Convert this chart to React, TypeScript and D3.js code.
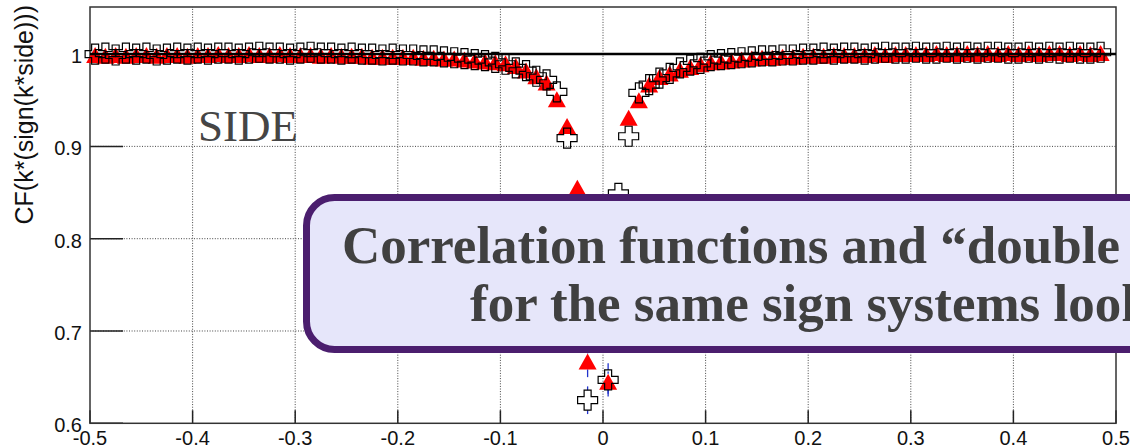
import React from "react";
import * as d3 from "d3";

// bin centres of k* (GeV/c), one per histogram bin
const kStar = [
  -0.495, -0.485, -0.475, -0.465, -0.455, -0.445, -0.435, -0.425, -0.415, -0.405,
  -0.395, -0.385, -0.375, -0.365, -0.355, -0.345, -0.335, -0.325, -0.315, -0.305,
  -0.295, -0.285, -0.275, -0.265, -0.255, -0.245, -0.235, -0.225, -0.215, -0.205,
  -0.195, -0.185, -0.175, -0.165, -0.155, -0.145, -0.135, -0.125, -0.115, -0.105,
  -0.095, -0.085, -0.075, -0.065, -0.055, -0.045, -0.035, -0.025, -0.015, -0.005,
  0.005, 0.015, 0.025, 0.035, 0.045, 0.055, 0.065, 0.075, 0.085, 0.095,
  0.105, 0.115, 0.125, 0.135, 0.145, 0.155, 0.165, 0.175, 0.185, 0.195,
  0.205, 0.215, 0.225, 0.235, 0.245, 0.255, 0.265, 0.275, 0.285, 0.295,
  0.305, 0.315, 0.325, 0.335, 0.345, 0.355, 0.365, 0.375, 0.385, 0.395,
  0.405, 0.415, 0.425, 0.435, 0.445, 0.455, 0.465, 0.475, 0.485, 0.495,
];

// red full triangles
const triangleCF = [
  0.998, 0.997, 0.998, 0.997, 0.998, 0.998, 0.997, 0.998, 0.998, 0.997,
  0.998, 0.998, 0.999, 0.998, 0.998, 0.999, 0.998, 0.998, 0.999, 0.998,
  0.998, 0.998, 0.997, 0.998, 0.997, 0.997, 0.997, 0.996, 0.996, 0.996,
  0.996, 0.996, 0.995, 0.995, 0.994, 0.994, 0.993, 0.992, 0.991, 0.99,
  0.989, 0.986, 0.981, 0.975, 0.968, 0.95, 0.921, 0.854, 0.666, null,
  0.644, 0.79, 0.93, 0.949, 0.966, 0.974, 0.978, 0.982, 0.985, 0.988,
  0.99, 0.991, 0.992, 0.993, 0.994, 0.995, 0.995, 0.996, 0.996, 0.997,
  0.997, 0.997, 0.998, 0.998, 0.998, 0.998, 0.999, 0.998, 0.999, 0.999,
  0.999, 0.999, 1.0, 0.999, 0.999, 1.0, 0.999, 1.0, 0.999, 1.0,
  0.999, 1.0, 0.999, 1.0, 1.0, 0.999, 1.0, 0.999, 1.0, null,
];

// black open crosses
const crossCF = [
  1.0, 1.001, 0.999, 1.001, 1.0, 1.001, 0.999, 1.0, 1.001, 1.0,
  1.001, 1.0, 1.001, 1.001, 1.0, 1.001, 1.002, 1.001, 1.001, 1.0,
  1.001, 1.002, 1.001, 1.001, 1.0, 1.001, 1.0, 1.0, 0.999, 1.0,
  0.999, 0.999, 0.998, 0.998, 0.997, 0.996, 0.995, 0.994, 0.993, 0.991,
  0.989, 0.985, 0.982, 0.976, 0.972, 0.959, 0.909, 0.76, 0.625, null,
  0.647, 0.849, 0.911, 0.958, 0.967, 0.974, 0.979, 0.985, 0.988, 0.99,
  0.993, 0.994, 0.995, 0.996, 0.997, 0.998, 0.998, 0.999, 0.999, 1.0,
  1.0, 1.001, 1.0, 1.001, 1.001, 1.0, 1.001, 1.002, 1.001, 1.001,
  1.002, 1.001, 1.001, 1.002, 1.001, 1.002, 1.001, 1.002, 1.002, 1.001,
  1.001, 1.002, 1.001, 1.002, 1.001, 1.002, 1.001, 1.001, 1.002, null,
];

// statistical errors, only where they stick out of the markers
const errK = [-0.015, 0.005];
const triangleErr = [0.016, 0.012];
const crossErr = [0.015, 0.018];

const xTicks = [-0.5, -0.4, -0.3, -0.2, -0.1, 0, 0.1, 0.2, 0.3, 0.4, 0.5];
const xTickLabels = ["-0.5", "-0.4", "-0.3", "-0.2", "-0.1", "0", "0.1", "0.2", "0.3", "0.4", "0.5"];
const yTicks = [0.6, 0.7, 0.8, 0.9, 1.0];
const yTickLabels = ["0.6", "0.7", "0.8", "0.9", "1"];

const yTitle = "CF(k*(sign(k*side)))";
const panelLabel = "SIDE";
const bannerLines = ["Correlation functions and \u201cdouble ratios\u201d", "for the same sign systems look similar"];

const sansFont = "'Liberation Sans', Arial, Helvetica, sans-serif";
const serifFont = "'Liberation Serif', 'Times New Roman', serif";

function trianglePath(cx: number, cy: number) {
  return `M${cx},${cy - 9}L${cx + 9},${cy + 7}L${cx - 9},${cy + 7}Z`;
}

function crossPath(cx: number, cy: number) {
  const h = 10;
  const a = 3.5;
  return (
    `M${cx - a},${cy - h}H${cx + a}V${cy - a}H${cx + h}V${cy + a}H${cx + a}` +
    `V${cy + h}H${cx - a}V${cy + a}H${cx - h}V${cy - a}H${cx - a}Z`
  );
}

export default function App() {
  const width = 1130;
  const height = 445;
  const x = d3.scaleLinear().domain([-0.5, 0.5]).range([90, 1116]);
  const y = d3.scaleLinear().domain([0.6, 1.051]).range([423.3, 7]);
  const [x0, x1] = x.range();
  const [yb, yt] = y.range();

  const triPts = kStar
    .map((k, i) => ({ k, v: triangleCF[i] }))
    .filter(d => d.v !== null) as { k: number; v: number }[];
  const crossPts = kStar
    .map((k, i) => ({ k, v: crossCF[i] }))
    .filter(d => d.v !== null) as { k: number; v: number }[];

  const errSegs: { xx: number; y1: number; y2: number }[] = [];
  errK.forEach((k, i) => {
    const ti = kStar.indexOf(k);
    const tv = triangleCF[ti] as number;
    const cv = crossCF[ti] as number;
    const xx = x(k);
    errSegs.push({ xx, y1: y(tv + triangleErr[i]), y2: y(tv) - 9 });
    errSegs.push({ xx, y1: y(tv) + 7, y2: y(tv - triangleErr[i]) });
    errSegs.push({ xx, y1: y(cv + crossErr[i]), y2: y(cv) - 10 });
    errSegs.push({ xx, y1: y(cv) + 10, y2: y(cv - crossErr[i]) });
  });

  return (
    <svg
      width={width}
      height={height}
      style={{ position: "absolute", left: 0, top: 0, background: "#fff" }}
    >
      <rect x={0} y={0} width={width} height={height} fill="#fff" />

      {/* grid */}
      <g stroke="#444" strokeWidth={1} strokeDasharray="1,1.6">
        {xTicks.slice(1, -1).map(t => (
          <line key={"gx" + t} x1={x(t)} x2={x(t)} y1={yb} y2={yt} />
        ))}
        {yTicks.slice(1).map(t => (
          <line key={"gy" + t} x1={x0} x2={x1} y1={y(t)} y2={y(t)} />
        ))}
      </g>

      {/* ticks */}
      <g stroke="#222" strokeWidth={1.5}>
        {xTicks.map(t => (
          <line key={"tx" + t} x1={x(t)} x2={x(t)} y1={yb} y2={yb - 13} />
        ))}
        {yTicks.map(t => (
          <line key={"ty" + t} x1={x0} x2={x0 + 33} y1={y(t)} y2={y(t)} />
        ))}
      </g>

      {/* frame */}
      <rect x={x0} y={yt} width={x1 - x0} height={yb - yt} fill="none" stroke="#333" strokeWidth={1.5} />

      {/* error bars */}
      <g stroke="#2233cc" strokeWidth={1.3}>
        {errSegs.map((s, i) => (
          <line key={"e" + i} x1={s.xx} x2={s.xx} y1={s.y1} y2={s.y2} />
        ))}
      </g>

      {/* markers */}
      <g fill="#ff0000" stroke="none">
        {triPts.map(d => (
          <path key={"t" + d.k} d={trianglePath(x(d.k), y(d.v))} />
        ))}
      </g>
      <g fill="none" stroke="#000" strokeWidth={1.2}>
        {crossPts.map(d => (
          <path key={"c" + d.k} d={crossPath(x(d.k), y(d.v))} />
        ))}
      </g>

      {/* reference line at 1 */}
      <line x1={x0} x2={x1} y1={y(1)} y2={y(1)} stroke="#000" strokeWidth={2.5} />

      {/* tick labels */}
      <g fontFamily={sansFont} fontSize={20} fill="#111">
        {xTicks.map((t, i) => (
          <text key={"lx" + t} x={x(t)} y={445} textAnchor="middle">
            {xTickLabels[i]}
          </text>
        ))}
        {yTicks.map((t, i) => (
          <text key={"ly" + t} x={82} y={y(t) + 9} textAnchor="end">
            {yTickLabels[i]}
          </text>
        ))}
      </g>

      <text
        transform="translate(33,5) rotate(-90)"
        textAnchor="end"
        fontFamily={sansFont}
        fontSize={25}
        fill="#111"
      >
        {yTitle}
      </text>

      <text x={198} y={141} fontFamily={serifFont} fontSize={45} fill="#454545">
        {panelLabel}
      </text>

      {/* banner over the plot */}
      <rect
        x={306.5}
        y={197.5}
        width={900}
        height={152}
        rx={28}
        ry={28}
        fill="#e6e6fa"
        stroke="#4b1e6e"
        strokeWidth={7}
      />
      <g fontFamily={serifFont} fontWeight="bold" fontSize={53} fill="#404040">
        <text x={342} y={263}>{bannerLines[0]}</text>
        <text x={470} y={321}>{bannerLines[1]}</text>
      </g>
    </svg>
  );
}
